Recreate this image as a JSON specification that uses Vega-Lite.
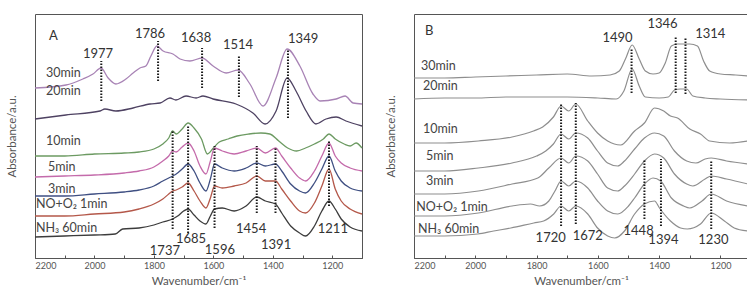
{
  "$schema": "https://vega.github.io/schema/vega-lite/v6.json",
  "padding": {"left": 5, "top": 13, "right": 0, "bottom": 0},
  "spacing": 18,
  "config": {
    "font": "Lato",
    "view": {"stroke": "#555", "strokeWidth": 1},
    "axis": {"grid": false, "titleFontWeight": "normal", "titleColor": "#555", "labelColor": "#555", "domainColor": "#555", "tickColor": "#555"}
  },
  "datasets": {
    "specA": [
      {"series":"30min","wn":2200,"abs":170},{"series":"30min","wn":2096,"abs":173},{"series":"30min","wn":2039,"abs":179},{"series":"30min","wn":2005,"abs":184},{"series":"30min","wn":1978,"abs":190},{"series":"30min","wn":1954,"abs":180},{"series":"30min","wn":1928,"abs":174},{"series":"30min","wn":1894,"abs":179},{"series":"30min","wn":1870,"abs":185},{"series":"30min","wn":1847,"abs":190},{"series":"30min","wn":1827,"abs":192},{"series":"30min","wn":1810,"abs":202},{"series":"30min","wn":1790,"abs":212},{"series":"30min","wn":1769,"abs":207},{"series":"30min","wn":1736,"abs":204},{"series":"30min","wn":1712,"abs":199},{"series":"30min","wn":1679,"abs":197},{"series":"30min","wn":1638,"abs":200},{"series":"30min","wn":1601,"abs":192},{"series":"30min","wn":1557,"abs":185},{"series":"30min","wn":1517,"abs":188},{"series":"30min","wn":1477,"abs":174},{"series":"30min","wn":1433,"abs":152},{"series":"30min","wn":1389,"abs":180},{"series":"30min","wn":1352,"abs":209},{"series":"30min","wn":1309,"abs":192},{"series":"30min","wn":1265,"abs":164},{"series":"30min","wn":1241,"abs":157},{"series":"30min","wn":1187,"abs":159},{"series":"30min","wn":1157,"abs":162},{"series":"30min","wn":1130,"abs":155},{"series":"30min","wn":1100,"abs":154},
      {"series":"20min","wn":2200,"abs":139},{"series":"20min","wn":2096,"abs":143},{"series":"20min","wn":1981,"abs":147},{"series":"20min","wn":1965,"abs":149},{"series":"20min","wn":1928,"abs":147},{"series":"20min","wn":1870,"abs":150},{"series":"20min","wn":1813,"abs":154},{"series":"20min","wn":1779,"abs":155},{"series":"20min","wn":1746,"abs":160},{"series":"20min","wn":1726,"abs":158},{"series":"20min","wn":1692,"abs":162},{"series":"20min","wn":1658,"abs":160},{"series":"20min","wn":1635,"abs":162},{"series":"20min","wn":1601,"abs":159},{"series":"20min","wn":1524,"abs":154},{"series":"20min","wn":1467,"abs":145},{"series":"20min","wn":1426,"abs":134},{"series":"20min","wn":1389,"abs":147},{"series":"20min","wn":1352,"abs":180},{"series":"20min","wn":1322,"abs":167},{"series":"20min","wn":1288,"abs":147},{"series":"20min","wn":1255,"abs":134},{"series":"20min","wn":1221,"abs":139},{"series":"20min","wn":1187,"abs":141},{"series":"20min","wn":1154,"abs":137},{"series":"20min","wn":1100,"abs":132},
      {"series":"10min","wn":2200,"abs":102},{"series":"10min","wn":2100,"abs":102},{"series":"10min","wn":2000,"abs":104},{"series":"10min","wn":1900,"abs":105},{"series":"10min","wn":1850,"abs":106},{"series":"10min","wn":1800,"abs":109},{"series":"10min","wn":1770,"abs":114},{"series":"10min","wn":1750,"abs":120},{"series":"10min","wn":1737,"abs":127},{"series":"10min","wn":1725,"abs":124},{"series":"10min","wn":1705,"abs":129},{"series":"10min","wn":1685,"abs":135},{"series":"10min","wn":1665,"abs":130},{"series":"10min","wn":1640,"abs":119},{"series":"10min","wn":1620,"abs":104},{"series":"10min","wn":1600,"abs":110},{"series":"10min","wn":1580,"abs":116},{"series":"10min","wn":1550,"abs":119},{"series":"10min","wn":1520,"abs":122},{"series":"10min","wn":1480,"abs":124},{"series":"10min","wn":1440,"abs":125},{"series":"10min","wn":1410,"abs":124},{"series":"10min","wn":1380,"abs":117},{"series":"10min","wn":1350,"abs":110},{"series":"10min","wn":1320,"abs":107},{"series":"10min","wn":1290,"abs":110},{"series":"10min","wn":1260,"abs":114},{"series":"10min","wn":1230,"abs":119},{"series":"10min","wn":1211,"abs":124},{"series":"10min","wn":1190,"abs":119},{"series":"10min","wn":1160,"abs":114},{"series":"10min","wn":1140,"abs":112},{"series":"10min","wn":1120,"abs":115},{"series":"10min","wn":1100,"abs":110},
      {"series":"5min","wn":2200,"abs":81},{"series":"5min","wn":2100,"abs":82},{"series":"5min","wn":2000,"abs":83},{"series":"5min","wn":1900,"abs":85},{"series":"5min","wn":1850,"abs":87},{"series":"5min","wn":1800,"abs":91},{"series":"5min","wn":1770,"abs":97},{"series":"5min","wn":1750,"abs":102},{"series":"5min","wn":1737,"abs":107},{"series":"5min","wn":1725,"abs":106},{"series":"5min","wn":1705,"abs":111},{"series":"5min","wn":1685,"abs":115},{"series":"5min","wn":1665,"abs":107},{"series":"5min","wn":1645,"abs":92},{"series":"5min","wn":1625,"abs":84},{"series":"5min","wn":1610,"abs":97},{"series":"5min","wn":1596,"abs":110},{"series":"5min","wn":1570,"abs":107},{"series":"5min","wn":1530,"abs":104},{"series":"5min","wn":1490,"abs":107},{"series":"5min","wn":1454,"abs":110},{"series":"5min","wn":1425,"abs":105},{"series":"5min","wn":1391,"abs":110},{"series":"5min","wn":1370,"abs":102},{"series":"5min","wn":1340,"abs":90},{"series":"5min","wn":1310,"abs":80},{"series":"5min","wn":1290,"abs":77},{"series":"5min","wn":1260,"abs":87},{"series":"5min","wn":1235,"abs":102},{"series":"5min","wn":1211,"abs":115},{"series":"5min","wn":1190,"abs":102},{"series":"5min","wn":1170,"abs":95},{"series":"5min","wn":1140,"abs":90},{"series":"5min","wn":1100,"abs":87},
      {"series":"3min","wn":2200,"abs":62},{"series":"3min","wn":2100,"abs":62},{"series":"3min","wn":2000,"abs":64},{"series":"3min","wn":1900,"abs":66},{"series":"3min","wn":1850,"abs":68},{"series":"3min","wn":1800,"abs":72},{"series":"3min","wn":1770,"abs":77},{"series":"3min","wn":1750,"abs":80},{"series":"3min","wn":1737,"abs":82},{"series":"3min","wn":1725,"abs":84},{"series":"3min","wn":1705,"abs":89},{"series":"3min","wn":1685,"abs":94},{"series":"3min","wn":1665,"abs":87},{"series":"3min","wn":1645,"abs":75},{"series":"3min","wn":1625,"abs":67},{"series":"3min","wn":1610,"abs":79},{"series":"3min","wn":1596,"abs":94},{"series":"3min","wn":1570,"abs":90},{"series":"3min","wn":1530,"abs":87},{"series":"3min","wn":1490,"abs":90},{"series":"3min","wn":1454,"abs":95},{"series":"3min","wn":1425,"abs":92},{"series":"3min","wn":1391,"abs":94},{"series":"3min","wn":1370,"abs":87},{"series":"3min","wn":1340,"abs":74},{"series":"3min","wn":1310,"abs":67},{"series":"3min","wn":1290,"abs":65},{"series":"3min","wn":1260,"abs":75},{"series":"3min","wn":1235,"abs":89},{"series":"3min","wn":1211,"abs":102},{"series":"3min","wn":1190,"abs":87},{"series":"3min","wn":1170,"abs":77},{"series":"3min","wn":1140,"abs":70},{"series":"3min","wn":1100,"abs":67},
      {"series":"NO+O2 1min","wn":2200,"abs":42},{"series":"NO+O2 1min","wn":2100,"abs":42},{"series":"NO+O2 1min","wn":2000,"abs":44},{"series":"NO+O2 1min","wn":1900,"abs":46},{"series":"NO+O2 1min","wn":1850,"abs":49},{"series":"NO+O2 1min","wn":1800,"abs":54},{"series":"NO+O2 1min","wn":1770,"abs":59},{"series":"NO+O2 1min","wn":1750,"abs":64},{"series":"NO+O2 1min","wn":1737,"abs":67},{"series":"NO+O2 1min","wn":1725,"abs":68},{"series":"NO+O2 1min","wn":1705,"abs":71},{"series":"NO+O2 1min","wn":1685,"abs":75},{"series":"NO+O2 1min","wn":1665,"abs":67},{"series":"NO+O2 1min","wn":1645,"abs":57},{"series":"NO+O2 1min","wn":1625,"abs":50},{"series":"NO+O2 1min","wn":1610,"abs":60},{"series":"NO+O2 1min","wn":1596,"abs":72},{"series":"NO+O2 1min","wn":1570,"abs":70},{"series":"NO+O2 1min","wn":1530,"abs":72},{"series":"NO+O2 1min","wn":1490,"abs":75},{"series":"NO+O2 1min","wn":1454,"abs":82},{"series":"NO+O2 1min","wn":1425,"abs":77},{"series":"NO+O2 1min","wn":1391,"abs":77},{"series":"NO+O2 1min","wn":1370,"abs":69},{"series":"NO+O2 1min","wn":1340,"abs":57},{"series":"NO+O2 1min","wn":1310,"abs":47},{"series":"NO+O2 1min","wn":1290,"abs":45},{"series":"NO+O2 1min","wn":1260,"abs":55},{"series":"NO+O2 1min","wn":1235,"abs":72},{"series":"NO+O2 1min","wn":1211,"abs":89},{"series":"NO+O2 1min","wn":1190,"abs":69},{"series":"NO+O2 1min","wn":1170,"abs":57},{"series":"NO+O2 1min","wn":1140,"abs":49},{"series":"NO+O2 1min","wn":1100,"abs":44},
      {"series":"NH3 60min","wn":2200,"abs":21},{"series":"NH3 60min","wn":2100,"abs":22},{"series":"NH3 60min","wn":2000,"abs":23},{"series":"NH3 60min","wn":1930,"abs":24},{"series":"NH3 60min","wn":1905,"abs":29},{"series":"NH3 60min","wn":1850,"abs":30},{"series":"NH3 60min","wn":1800,"abs":33},{"series":"NH3 60min","wn":1770,"abs":36},{"series":"NH3 60min","wn":1737,"abs":39},{"series":"NH3 60min","wn":1720,"abs":42},{"series":"NH3 60min","wn":1700,"abs":47},{"series":"NH3 60min","wn":1685,"abs":49},{"series":"NH3 60min","wn":1665,"abs":43},{"series":"NH3 60min","wn":1645,"abs":37},{"series":"NH3 60min","wn":1625,"abs":34},{"series":"NH3 60min","wn":1610,"abs":42},{"series":"NH3 60min","wn":1596,"abs":49},{"series":"NH3 60min","wn":1570,"abs":50},{"series":"NH3 60min","wn":1530,"abs":47},{"series":"NH3 60min","wn":1490,"abs":52},{"series":"NH3 60min","wn":1454,"abs":61},{"series":"NH3 60min","wn":1425,"abs":57},{"series":"NH3 60min","wn":1391,"abs":54},{"series":"NH3 60min","wn":1370,"abs":45},{"series":"NH3 60min","wn":1340,"abs":32},{"series":"NH3 60min","wn":1310,"abs":25},{"series":"NH3 60min","wn":1290,"abs":22},{"series":"NH3 60min","wn":1260,"abs":32},{"series":"NH3 60min","wn":1235,"abs":47},{"series":"NH3 60min","wn":1211,"abs":57},{"series":"NH3 60min","wn":1190,"abs":49},{"series":"NH3 60min","wn":1170,"abs":39},{"series":"NH3 60min","wn":1140,"abs":31},{"series":"NH3 60min","wn":1100,"abs":27}
    ],
    "specB": [
      {"series":"30min","wn":2200,"abs":180},{"series":"30min","wn":2100,"abs":180},{"series":"30min","wn":2000,"abs":181},{"series":"30min","wn":1900,"abs":182},{"series":"30min","wn":1800,"abs":183},{"series":"30min","wn":1700,"abs":184},{"series":"30min","wn":1620,"abs":182},{"series":"30min","wn":1560,"abs":183},{"series":"30min","wn":1530,"abs":187},{"series":"30min","wn":1510,"abs":199},{"series":"30min","wn":1488,"abs":213},{"series":"30min","wn":1465,"abs":199},{"series":"30min","wn":1445,"abs":187},{"series":"30min","wn":1420,"abs":184},{"series":"30min","wn":1400,"abs":185},{"series":"30min","wn":1380,"abs":195},{"series":"30min","wn":1360,"abs":212},{"series":"30min","wn":1340,"abs":214},{"series":"30min","wn":1300,"abs":214},{"series":"30min","wn":1275,"abs":212},{"series":"30min","wn":1255,"abs":197},{"series":"30min","wn":1235,"abs":187},{"series":"30min","wn":1200,"abs":184},{"series":"30min","wn":1150,"abs":183},{"series":"30min","wn":1110,"abs":182},
      {"series":"20min","wn":2200,"abs":159},{"series":"20min","wn":2100,"abs":160},{"series":"20min","wn":2000,"abs":160},{"series":"20min","wn":1900,"abs":161},{"series":"20min","wn":1800,"abs":161},{"series":"20min","wn":1700,"abs":161},{"series":"20min","wn":1600,"abs":160},{"series":"20min","wn":1540,"abs":159},{"series":"20min","wn":1515,"abs":167},{"series":"20min","wn":1488,"abs":189},{"series":"20min","wn":1465,"abs":172},{"series":"20min","wn":1445,"abs":161},{"series":"20min","wn":1400,"abs":160},{"series":"20min","wn":1370,"abs":161},{"series":"20min","wn":1350,"abs":168},{"series":"20min","wn":1330,"abs":169},{"series":"20min","wn":1310,"abs":169},{"series":"20min","wn":1290,"abs":162},{"series":"20min","wn":1250,"abs":160},{"series":"20min","wn":1200,"abs":159},{"series":"20min","wn":1110,"abs":158},
      {"series":"10min","wn":2200,"abs":115},{"series":"10min","wn":2100,"abs":115},{"series":"10min","wn":1990,"abs":117},{"series":"10min","wn":1880,"abs":121},{"series":"10min","wn":1810,"abs":127},{"series":"10min","wn":1780,"abs":131},{"series":"10min","wn":1745,"abs":141},{"series":"10min","wn":1720,"abs":152},{"series":"10min","wn":1695,"abs":147},{"series":"10min","wn":1672,"abs":154},{"series":"10min","wn":1633,"abs":137},{"series":"10min","wn":1601,"abs":125},{"series":"10min","wn":1568,"abs":117},{"series":"10min","wn":1526,"abs":113},{"series":"10min","wn":1480,"abs":127},{"series":"10min","wn":1448,"abs":135},{"series":"10min","wn":1415,"abs":150},{"series":"10min","wn":1385,"abs":147},{"series":"10min","wn":1363,"abs":142},{"series":"10min","wn":1340,"abs":140},{"series":"10min","wn":1300,"abs":129},{"series":"10min","wn":1265,"abs":124},{"series":"10min","wn":1235,"abs":117},{"series":"10min","wn":1170,"abs":115},{"series":"10min","wn":1110,"abs":117},
      {"series":"5min","wn":2200,"abs":87},{"series":"5min","wn":2100,"abs":87},{"series":"5min","wn":1990,"abs":90},{"series":"5min","wn":1880,"abs":95},{"series":"5min","wn":1800,"abs":102},{"series":"5min","wn":1770,"abs":107},{"series":"5min","wn":1745,"abs":114},{"series":"5min","wn":1720,"abs":124},{"series":"5min","wn":1695,"abs":119},{"series":"5min","wn":1672,"abs":125},{"series":"5min","wn":1633,"abs":120},{"series":"5min","wn":1601,"abs":107},{"series":"5min","wn":1568,"abs":95},{"series":"5min","wn":1535,"abs":92},{"series":"5min","wn":1513,"abs":97},{"series":"5min","wn":1480,"abs":109},{"series":"5min","wn":1448,"abs":120},{"series":"5min","wn":1415,"abs":125},{"series":"5min","wn":1385,"abs":122},{"series":"5min","wn":1350,"abs":107},{"series":"5min","wn":1310,"abs":97},{"series":"5min","wn":1280,"abs":95},{"series":"5min","wn":1250,"abs":99},{"series":"5min","wn":1230,"abs":100},{"series":"5min","wn":1180,"abs":97},{"series":"5min","wn":1110,"abs":94},
      {"series":"3min","wn":2200,"abs":64},{"series":"3min","wn":2100,"abs":64},{"series":"3min","wn":1990,"abs":67},{"series":"3min","wn":1880,"abs":74},{"series":"3min","wn":1796,"abs":80},{"series":"3min","wn":1760,"abs":90},{"series":"3min","wn":1720,"abs":100},{"series":"3min","wn":1695,"abs":95},{"series":"3min","wn":1672,"abs":102},{"series":"3min","wn":1633,"abs":97},{"series":"3min","wn":1601,"abs":84},{"series":"3min","wn":1568,"abs":70},{"series":"3min","wn":1535,"abs":67},{"series":"3min","wn":1513,"abs":72},{"series":"3min","wn":1480,"abs":84},{"series":"3min","wn":1448,"abs":97},{"series":"3min","wn":1415,"abs":104},{"series":"3min","wn":1385,"abs":100},{"series":"3min","wn":1350,"abs":84},{"series":"3min","wn":1310,"abs":74},{"series":"3min","wn":1290,"abs":72},{"series":"3min","wn":1250,"abs":79},{"series":"3min","wn":1230,"abs":82},{"series":"3min","wn":1180,"abs":79},{"series":"3min","wn":1110,"abs":74},
      {"series":"NO+O2 1min","wn":2200,"abs":42},{"series":"NO+O2 1min","wn":2100,"abs":42},{"series":"NO+O2 1min","wn":1990,"abs":45},{"series":"NO+O2 1min","wn":1880,"abs":52},{"series":"NO+O2 1min","wn":1820,"abs":54},{"series":"NO+O2 1min","wn":1790,"abs":52},{"series":"NO+O2 1min","wn":1760,"abs":57},{"series":"NO+O2 1min","wn":1740,"abs":67},{"series":"NO+O2 1min","wn":1720,"abs":77},{"series":"NO+O2 1min","wn":1695,"abs":72},{"series":"NO+O2 1min","wn":1672,"abs":77},{"series":"NO+O2 1min","wn":1633,"abs":70},{"series":"NO+O2 1min","wn":1601,"abs":57},{"series":"NO+O2 1min","wn":1568,"abs":47},{"series":"NO+O2 1min","wn":1535,"abs":44},{"series":"NO+O2 1min","wn":1500,"abs":52},{"series":"NO+O2 1min","wn":1480,"abs":60},{"series":"NO+O2 1min","wn":1448,"abs":74},{"series":"NO+O2 1min","wn":1420,"abs":80},{"series":"NO+O2 1min","wn":1395,"abs":77},{"series":"NO+O2 1min","wn":1360,"abs":60},{"series":"NO+O2 1min","wn":1320,"abs":52},{"series":"NO+O2 1min","wn":1300,"abs":50},{"series":"NO+O2 1min","wn":1260,"abs":57},{"series":"NO+O2 1min","wn":1230,"abs":64},{"series":"NO+O2 1min","wn":1180,"abs":57},{"series":"NO+O2 1min","wn":1110,"abs":52},
      {"series":"NH3 60min","wn":2200,"abs":22},{"series":"NH3 60min","wn":2102,"abs":22},{"series":"NH3 60min","wn":1992,"abs":24},{"series":"NH3 60min","wn":1940,"abs":27},{"series":"NH3 60min","wn":1884,"abs":30},{"series":"NH3 60min","wn":1809,"abs":35},{"series":"NH3 60min","wn":1777,"abs":37},{"series":"NH3 60min","wn":1744,"abs":44},{"series":"NH3 60min","wn":1720,"abs":52},{"series":"NH3 60min","wn":1695,"abs":47},{"series":"NH3 60min","wn":1672,"abs":52},{"series":"NH3 60min","wn":1633,"abs":44},{"series":"NH3 60min","wn":1601,"abs":30},{"series":"NH3 60min","wn":1568,"abs":22},{"series":"NH3 60min","wn":1545,"abs":20},{"series":"NH3 60min","wn":1513,"abs":27},{"series":"NH3 60min","wn":1480,"abs":44},{"series":"NH3 60min","wn":1448,"abs":54},{"series":"NH3 60min","wn":1415,"abs":57},{"series":"NH3 60min","wn":1399,"abs":50},{"series":"NH3 60min","wn":1363,"abs":37},{"series":"NH3 60min","wn":1330,"abs":30},{"series":"NH3 60min","wn":1308,"abs":29},{"series":"NH3 60min","wn":1265,"abs":34},{"series":"NH3 60min","wn":1230,"abs":45},{"series":"NH3 60min","wn":1187,"abs":37},{"series":"NH3 60min","wn":1155,"abs":30},{"series":"NH3 60min","wn":1110,"abs":27}
    ],
    "rulesA": [
      {"wn":1977,"abs":157,"abs2":197},{"wn":1786,"abs":177,"abs2":217},{"wn":1638,"abs":170,"abs2":210},{"wn":1514,"abs":161,"abs2":202},{"wn":1349,"abs":140,"abs2":209},
      {"wn":1737,"abs":29,"abs2":127},{"wn":1685,"abs":25,"abs2":132},{"wn":1596,"abs":30,"abs2":112},{"wn":1454,"abs":45,"abs2":112},{"wn":1391,"abs":45,"abs2":110},{"wn":1211,"abs":52,"abs2":117}
    ],
    "rulesB": [
      {"wn":1490,"abs":165,"abs2":210},{"wn":1346,"abs":165,"abs2":222},{"wn":1314,"abs":164,"abs2":220},
      {"wn":1720,"abs":32,"abs2":154},{"wn":1672,"abs":34,"abs2":155},{"wn":1448,"abs":39,"abs2":99},{"wn":1394,"abs":32,"abs2":99},{"wn":1230,"abs":29,"abs2":97}
    ],
    "peaksA": [
      {"label":"1977","wn":1988,"abs":204},{"label":"1786","wn":1813,"abs":224},{"label":"1638","wn":1658,"abs":220},{"label":"1514","wn":1517,"abs":213},{"label":"1349","wn":1298,"abs":219},
      {"label":"1737","wn":1763,"abs":7},{"label":"1685","wn":1675,"abs":19},{"label":"1596","wn":1578,"abs":8},{"label":"1454","wn":1473,"abs":29},{"label":"1391","wn":1389,"abs":13},{"label":"1211","wn":1198,"abs":29}
    ],
    "peaksB": [
      {"label":"1490","wn":1536,"abs":220},{"label":"1346","wn":1389,"abs":234},{"label":"1314","wn":1233,"abs":224},
      {"label":"1720","wn":1754,"abs":20},{"label":"1672","wn":1633,"abs":22},{"label":"1448","wn":1467,"abs":27},{"label":"1394","wn":1386,"abs":18},{"label":"1230","wn":1223,"abs":18}
    ],
    "namesA": [
      {"label":"30min","wn":2163,"abs":185},{"label":"20min","wn":2163,"abs":167},{"label":"10min","wn":2163,"abs":117},{"label":"5min","wn":2156,"abs":91},{"label":"3min","wn":2156,"abs":69},{"label":"NO+O₂ 1min","wn":2197,"abs":54},{"label":"NH₃ 60min","wn":2197,"abs":30}
    ],
    "namesB": [
      {"label":"30min","wn":2177,"abs":192},{"label":"20min","wn":2171,"abs":172},{"label":"10min","wn":2171,"abs":129},{"label":"5min","wn":2161,"abs":102},{"label":"3min","wn":2161,"abs":77},{"label":"NO+O₂ 1min","wn":2193,"abs":51},{"label":"NH₃ 60min","wn":2187,"abs":29}
    ]
  },
  "hconcat": [
    {
      "width": 327,
      "height": 244,
      "encoding": {
        "x": {"field": "wn", "type": "quantitative", "scale": {"domain": [1100, 2200], "reverse": true, "nice": false, "zero": false},
          "axis": {"title": "Wavenumber/cm⁻¹", "values": [2200,2100,2000,1900,1800,1700,1600,1500,1400,1300,1200,1100], "format": "d", "labelExpr": "datum.value % 200 == 0 ? datum.label : ''", "tickSize": -3, "labelPadding": 6, "labelFontSize": 9, "titleFontSize": 11.5, "titlePadding": 5}},
        "y": {"field": "abs", "type": "quantitative", "scale": {"domain": [0, 244], "nice": false, "zero": false},
          "axis": {"title": "Absorbance/a.u.", "labels": false, "ticks": false, "domain": false, "titleFontSize": 11.5, "titlePadding": 18}}
      },
      "layer": [
        {"data": {"name": "specA"}, "mark": {"type": "line", "strokeWidth": 1.3, "interpolate": "monotone"},
          "encoding": {"color": {"field": "series", "type": "nominal", "legend": null,
            "scale": {"domain": ["30min","20min","10min","5min","3min","NO+O2 1min","NH3 60min"], "range": ["#a883b5","#4e4262","#6c9a62","#c46bab","#3f4f82","#b4584a","#3c3c3c"]}}}},
        {"data": {"name": "rulesA"}, "mark": {"type": "rule", "strokeDash": [1.6, 1.4], "strokeWidth": 2, "color": "#1a1a1a"},
          "encoding": {"y2": {"field": "abs2"}}},
        {"data": {"name": "peaksA"}, "mark": {"type": "text", "fontSize": 13, "color": "#333", "align": "center", "baseline": "middle"},
          "encoding": {"text": {"field": "label"}}},
        {"data": {"name": "namesA"}, "mark": {"type": "text", "fontSize": 12.5, "color": "#444", "align": "left", "baseline": "middle"},
          "encoding": {"text": {"field": "label"}}},
        {"data": {"values": [{"label": "A", "wn": 2153, "abs": 222}]}, "mark": {"type": "text", "fontSize": 13, "color": "#333", "align": "left", "baseline": "middle"},
          "encoding": {"text": {"field": "label"}}}
      ]
    },
    {
      "width": 334,
      "height": 244,
      "encoding": {
        "x": {"field": "wn", "type": "quantitative", "scale": {"domain": [1110, 2200], "reverse": true, "nice": false, "zero": false},
          "axis": {"title": "Wavenumber/cm⁻¹", "values": [2200,2100,2000,1900,1800,1700,1600,1500,1400,1300,1200], "format": "d", "labelExpr": "datum.value % 200 == 0 ? datum.label : ''", "tickSize": -3, "labelPadding": 6, "labelFontSize": 9, "titleFontSize": 11.5, "titlePadding": 5}},
        "y": {"field": "abs", "type": "quantitative", "scale": {"domain": [0, 244], "nice": false, "zero": false},
          "axis": {"title": "Absorbance/a.u.", "labels": false, "ticks": false, "domain": false, "titleFontSize": 11.5, "titlePadding": 18}}
      },
      "layer": [
        {"data": {"name": "specB"}, "mark": {"type": "line", "strokeWidth": 1.2, "interpolate": "monotone", "color": "#8e8e8e"},
          "encoding": {"detail": {"field": "series", "type": "nominal"}}},
        {"data": {"name": "rulesB"}, "mark": {"type": "rule", "strokeDash": [1.6, 1.4], "strokeWidth": 2, "color": "#1a1a1a"},
          "encoding": {"y2": {"field": "abs2"}}},
        {"data": {"name": "peaksB"}, "mark": {"type": "text", "fontSize": 13, "color": "#333", "align": "center", "baseline": "middle"},
          "encoding": {"text": {"field": "label"}}},
        {"data": {"name": "namesB"}, "mark": {"type": "text", "fontSize": 12.5, "color": "#444", "align": "left", "baseline": "middle"},
          "encoding": {"text": {"field": "label"}}},
        {"data": {"values": [{"label": "B", "wn": 2164, "abs": 227}]}, "mark": {"type": "text", "fontSize": 13, "color": "#333", "align": "left", "baseline": "middle"},
          "encoding": {"text": {"field": "label"}}}
      ]
    }
  ]
}
